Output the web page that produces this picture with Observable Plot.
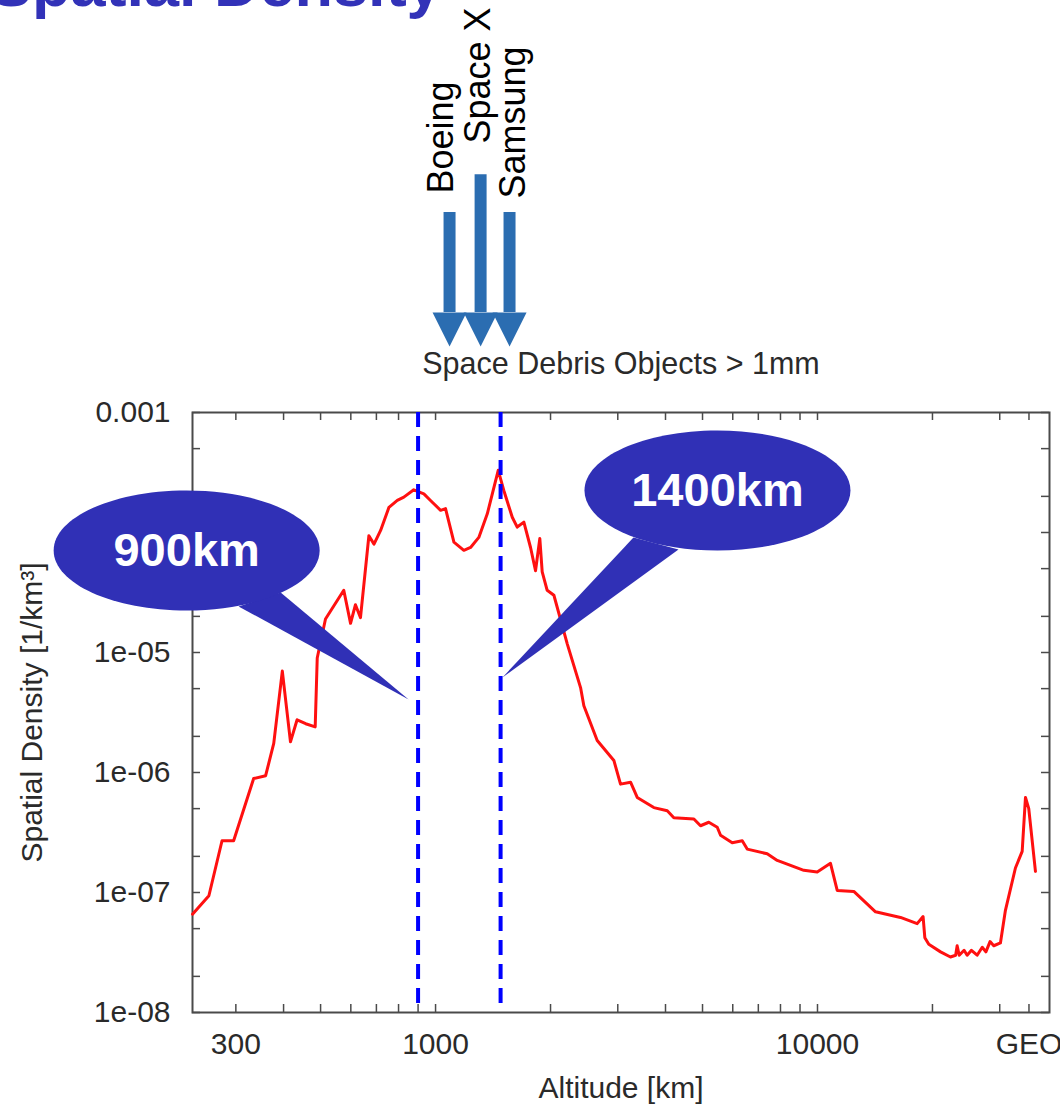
<!DOCTYPE html>
<html>
<head>
<meta charset="utf-8">
<script src="https://cdn.jsdelivr.net/npm/d3@7"></script>
<script src="https://cdn.jsdelivr.net/npm/@observablehq/plot@0.6"></script>
<style>
  html, body { margin: 0; padding: 0; background: #fff; overflow: hidden; }
  #wrap { position: relative; width: 1060px; height: 1106px; }
  #title { position: absolute; left: -10px; top: -47px; font: bold 63px "Liberation Sans", Arial, sans-serif; line-height: 63px; color: #3232b8; white-space: nowrap; }
  #chart { position: absolute; left: 0; top: 0; }
</style>
</head>
<body>
<div id="wrap">
  <div id="chart"></div>
  <div id="title">Spatial Density</div>
</div>
<script>
// ---- Data ----
const altitude = [231, 255, 276, 296, 334, 359, 377, 397, 417, 434, 457, 484, 490, 515, 575, 599, 617, 636, 669, 690, 718, 755, 794, 826, 877, 932, 970, 1031, 1062, 1117, 1186, 1235, 1298, 1366, 1459, 1509, 1588, 1636, 1703, 1773, 1827, 1875, 1902, 1960, 2041, 2212, 2397, 2445, 2650, 2930, 3050, 3240, 3373, 3728, 4043, 4206, 4746, 4940, 5193, 5464, 5574, 5980, 6353, 6546, 7385, 7845, 8500, 9208, 9982, 10815, 11262, 12447, 14187, 16495, 18238, 18900, 19100, 19561, 21000, 22292, 23000, 23210, 23500, 24200, 24650, 25300, 26180, 27000, 27600, 28300, 28940, 30130, 31050, 32980, 34350, 35040, 35740, 37210];
const density = [6.6e-8, 9.4e-8, 2.7e-7, 2.7e-7, 8.9e-7, 9.4e-7, 1.75e-6, 7.0e-6, 1.8e-6, 2.75e-6, 2.55e-6, 2.4e-6, 9.0e-6, 1.9e-5, 3.3e-5, 1.75e-5, 2.5e-5, 1.95e-5, 9.4e-5, 8.0e-5, 1.04e-4, 1.62e-4, 1.85e-4, 1.97e-4, 2.27e-4, 2.1e-4, 1.85e-4, 1.53e-4, 1.58e-4, 8.3e-5, 7.1e-5, 7.5e-5, 9.1e-5, 1.43e-4, 3.3e-4, 2.24e-4, 1.34e-4, 1.11e-4, 1.22e-4, 7.5e-5, 4.8e-5, 8.9e-5, 4.7e-5, 3.3e-5, 3.0e-5, 1.18e-5, 5.1e-6, 3.6e-6, 1.85e-6, 1.26e-6, 8.0e-7, 8.3e-7, 6.2e-7, 5.1e-7, 4.8e-7, 4.2e-7, 4.1e-7, 3.6e-7, 3.85e-7, 3.5e-7, 3.0e-7, 2.6e-7, 2.7e-7, 2.3e-7, 2.1e-7, 1.85e-7, 1.68e-7, 1.53e-7, 1.48e-7, 1.75e-7, 1.04e-7, 1.02e-7, 6.9e-8, 6.2e-8, 5.5e-8, 6.3e-8, 4.2e-8, 3.7e-8, 3.2e-8, 2.9e-8, 3.0e-8, 3.6e-8, 3.0e-8, 3.3e-8, 3.0e-8, 3.3e-8, 3.0e-8, 3.5e-8, 3.2e-8, 3.9e-8, 3.6e-8, 3.8e-8, 7.1e-8, 1.6e-7, 2.2e-7, 6.2e-7, 5.0e-7, 1.5e-7];

const xDomain = [231, 40500];
const yDomain = [1e-8, 1e-3];

const xLabelTicks = [300, 1000, 10000, 35786];
const xTickLabels = ["300", "1000", "10000", "GEO"];
const xAllTicks = [300, 400, 500, 600, 700, 800, 900, 1000, 2000, 3000, 4000, 5000, 6000, 7000, 8000, 9000, 10000, 20000, 30000, 35786];

// the 1e-04 label is hidden under the callout in the reference
const yLabelTicks = [1e-3, 1e-5, 1e-6, 1e-7, 1e-8];
const yTickLabels = ["0.001", "1e-05", "1e-06", "1e-07", "1e-08"];
const yAllTicks = [1e-3, 5e-4, 2e-4, 1e-4, 5e-5, 2e-5, 1e-5, 5e-6, 2e-6, 1e-6, 5e-7, 2e-7, 1e-7, 5e-8, 2e-8, 1e-8];

// marked altitudes (dashed lines)
const markedAlt = [900, 1480];

// callouts
const calloutLabels = ["900km", "1400km"];
const calloutCenterAlt = [223, 5472];
const calloutCenterDens = [7.08e-5, 2.24e-4];
const calloutTailAlt = [[305, 393, 850], [3298, 4326, 1497]];
const calloutTailDens = [[2.42e-5, 3.16e-5, 4.06e-6], [9.08e-5, 7.22e-5, 6.19e-6]];

// constellation arrows
const companies = ["Boeing", "Space X", "Samsung"];
const arrowAlt = [1088, 1312, 1562];
const arrowTopDens = [0.0464, 0.0957, 0.0464];
const arrowHeadDens = [0.0068, 0.0068, 0.0068];
const labelAlt = [1108, 1385, 1710];
const labelDens = [0.0668, 0.1744, 0.0607];

// ---- Build tables ----
const curve = altitude.map((a, i) => ({alt: a, dens: density[i]}));
const xLabelMap = new Map(xLabelTicks.map((t, i) => [t, xTickLabels[i]]));
const yLabelMap = new Map(yLabelTicks.map((t, i) => [t, yTickLabels[i]]));
const callouts = calloutLabels.map((l, i) => ({label: l, alt: calloutCenterAlt[i], dens: calloutCenterDens[i]}));
const tails = calloutLabels.flatMap((l, i) => calloutTailAlt[i].map((a, j) => ({id: l, alt: a, dens: calloutTailDens[i][j]})));
const arrows = companies.map((c, i) => ({name: c, alt: arrowAlt[i], top: arrowTopDens[i], head: arrowHeadDens[i], lAlt: labelAlt[i], lDens: labelDens[i]}));

// custom symbols
const ellipseSymbol = {
  draw(ctx, size) {
    const r = Math.sqrt(size / Math.PI);
    const rx = r, ry = r * 0.451, k = 0.5523;
    ctx.moveTo(rx, 0);
    ctx.bezierCurveTo(rx, ry * k, rx * k, ry, 0, ry);
    ctx.bezierCurveTo(-rx * k, ry, -rx, ry * k, -rx, 0);
    ctx.bezierCurveTo(-rx, -ry * k, -rx * k, -ry, 0, -ry);
    ctx.bezierCurveTo(rx * k, -ry, rx, -ry * k, rx, 0);
    ctx.closePath();
  }
};
const headSymbol = {
  draw(ctx, size) {
    const r = Math.sqrt(size / Math.PI);
    ctx.moveTo(-r, 0);
    ctx.lineTo(r, 0);
    ctx.lineTo(0, 2 * r);
    ctx.closePath();
  }
};

const W = 1060, H = 1106, mT = 412, mB = 94, mL = 192, mR = 11;
const plotW = W - mL - mR, plotH = H - mT - mB;
const tickLen = 8;
const axisColor = "#4a4a4a";
const textColor = "#2a2a2a";
const calloutColor = "#3030b6";
const arrowColor = "#2b6db1";

const chart = Plot.plot({
  width: W,
  height: H,
  marginTop: mT,
  marginBottom: mB,
  marginLeft: mL,
  marginRight: mR,
  style: {fontFamily: "'Liberation Sans', Arial, sans-serif", fontSize: "30px", background: "white", color: textColor, overflow: "visible"},
  x: {type: "log", domain: xDomain},
  y: {type: "log", domain: yDomain},
  marks: [
    // inward ticks
    Plot.ruleX(xAllTicks, {x: d => d, insetTop: plotH - tickLen, stroke: axisColor, strokeWidth: 1.5}),
    Plot.ruleX(xAllTicks, {x: d => d, insetBottom: plotH - tickLen, stroke: axisColor, strokeWidth: 1.5}),
    Plot.ruleY(yAllTicks, {y: d => d, insetRight: plotW - tickLen, stroke: axisColor, strokeWidth: 1.5}),
    Plot.ruleY(yAllTicks, {y: d => d, insetLeft: plotW - tickLen, stroke: axisColor, strokeWidth: 1.5}),
    Plot.frame({stroke: axisColor, strokeWidth: 2}),
    // tick labels
    Plot.axisX({ticks: xLabelTicks, tickSize: 0, tickPadding: 20, tickFormat: d => xLabelMap.get(d), fontSize: 30, fill: textColor, label: null}),
    Plot.axisY({ticks: yLabelTicks, tickSize: 0, tickPadding: 22, tickFormat: d => yLabelMap.get(d), fontSize: 30, fill: textColor, label: null}),
    // axis titles
    Plot.text(["Altitude [km]"], {frameAnchor: "bottom", dy: 85, textAnchor: "middle", lineAnchor: "bottom", fontSize: 30, fill: textColor}),
    Plot.text(["Spatial Density [1/km³]"], {frameAnchor: "left", dx: -151, rotate: -90, textAnchor: "middle", lineAnchor: "bottom", fontSize: 30, fill: textColor}),
    Plot.text(["Space Debris Objects > 1mm"], {frameAnchor: "top", dy: -39, textAnchor: "middle", lineAnchor: "bottom", fontSize: 30.5, fill: textColor}),
    // data curve
    Plot.line(curve, {x: "alt", y: "dens", stroke: "#ff1010", strokeWidth: 3, strokeLinejoin: "round"}),
    // dashed markers
    Plot.ruleX(markedAlt, {x: d => d, stroke: "#0000ff", strokeWidth: 4, strokeDasharray: "15,9"}),
    // callouts
    Plot.line(tails, {x: "alt", y: "dens", z: "id", fill: calloutColor, stroke: "none", curve: "linear-closed"}),
    Plot.dot(callouts, {x: "alt", y: "dens", r: 133, symbol: ellipseSymbol, fill: calloutColor, stroke: "none"}),
    Plot.text(callouts, {x: "alt", y: "dens", text: "label", fill: "white", fontWeight: "bold", fontSize: 47, lineAnchor: "middle"}),
    // arrows
    Plot.ruleX(arrows, {x: "alt", y1: "top", y2: "head", stroke: arrowColor, strokeWidth: 12}),
    Plot.dot(arrows, {x: "alt", y: "head", r: 17, symbol: headSymbol, fill: arrowColor, stroke: "none"}),
    Plot.text(arrows, {x: "lAlt", y: "lDens", text: "name", rotate: -90, textAnchor: "start", lineAnchor: "bottom", fontSize: 36, fill: "black"})
  ]
});
document.getElementById("chart").appendChild(chart);
</script>
</body>
</html>
